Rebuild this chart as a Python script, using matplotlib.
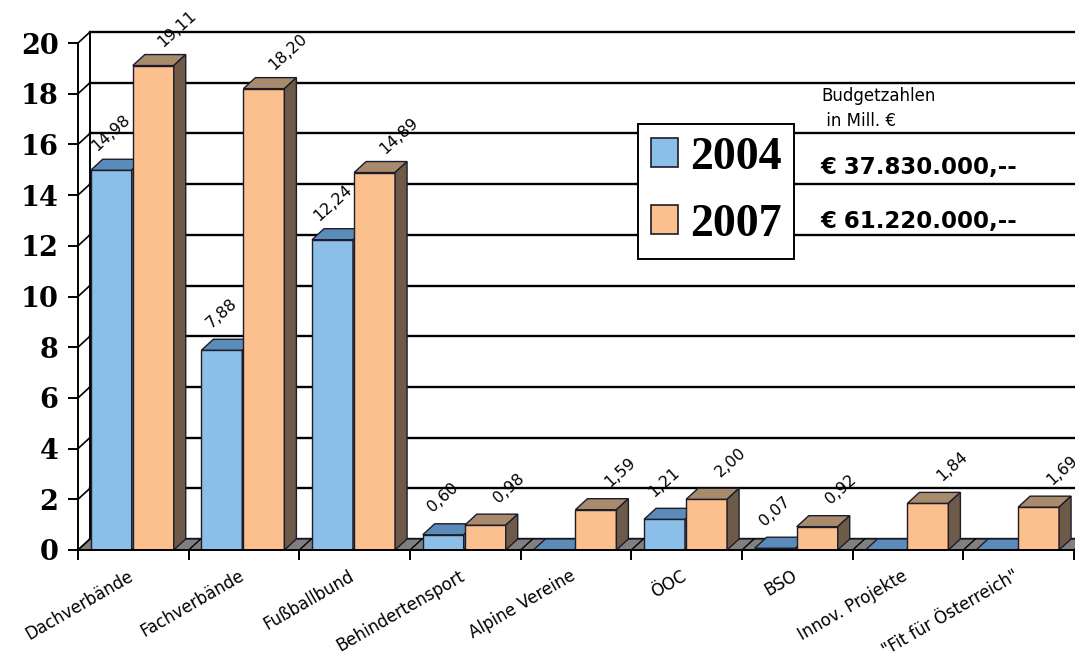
import numpy as np
import matplotlib
matplotlib.use("Agg")
import matplotlib.pyplot as plt
from matplotlib.patches import Polygon, Patch
from matplotlib.transforms import ScaledTranslation

# Daten (Budget in Mill. Euro)
kategorien = ["Dachverbände", "Fachverbände", "Fußballbund", "Behindertensport",
              "Alpine Vereine", "ÖOC", "BSO", "Innov. Projekte", "\"Fit für Österreich\""]
werte_2004 = [14.98, 7.88, 12.24, 0.60, 0.0, 1.21, 0.07, 0.0, 0.0]
werte_2007 = [19.11, 18.20, 14.89, 0.98, 1.59, 2.00, 0.92, 1.84, 1.69]
jahre = ["2004", "2007"]
summen = ["€ 37.830.000,--", "€ 61.220.000,--"]
yticks = list(range(0, 21, 2))

# Farben
blau_vorne, blau_oben, blau_seite = "#8cbfe8", "#5b8bb8", "#4a6f96"
orange_vorne, orange_oben, orange_seite = "#fbc08e", "#a88a6c", "#6e5a48"
boden = "#808080"
rand = "#1c1c2a"

W_PX, H_PX = 1075, 664
ax_l, ax_b, ax_w, ax_h = 78, 114, 996, 507

fig = plt.figure(figsize=(W_PX / 100, H_PX / 100), dpi=100)
fig.patch.set_facecolor("white")
ax = fig.add_axes([ax_l / W_PX, ax_b / H_PX, ax_w / W_PX, ax_h / H_PX])
n = len(kategorien)
ax.set_xlim(0, n)
ax.set_ylim(0, 20)

# 3D-Tiefe in Datenkoordinaten
DX = 12 / (ax_w / n)
DY = 11 / (ax_h / 20)

# Rueckwand mit Gitterlinien und linke Seitenwand
for y in yticks:
    ax.plot([DX, n + 0.5], [y + DY, y + DY], color="black", lw=1.7, clip_on=False, zorder=1)
    ax.plot([0, DX], [y, y + DY], color="black", lw=1.2, clip_on=False, zorder=1)
ax.plot([DX, DX], [DY, 20 + DY], color="black", lw=1.4, clip_on=False, zorder=1)

# Boden
ax.add_patch(Polygon([(0, 0), (n, 0), (n + DX, DY), (DX, DY)], closed=True,
                     facecolor=boden, edgecolor=rand, lw=1, zorder=2, clip_on=False))
for k in range(n + 1):
    ax.plot([k, k + DX], [0, DY], color="black", lw=1, zorder=2, clip_on=False)

breite = 0.37
x = np.arange(n)
pos_2004 = x + 0.30
pos_2007 = x + 0.68


def balken3d(pos, werte, vorne, oben, seite, z, dx_label):
    bars = ax.bar(pos, werte, breite, color=vorne, edgecolor=rand, lw=1, zorder=z)
    for xc, v in zip(pos, werte):
        x0, x1 = xc - breite / 2, xc + breite / 2
        ax.add_patch(Polygon([(x0, v), (x1, v), (x1 + DX, v + DY), (x0 + DX, v + DY)],
                             closed=True, facecolor=oben, edgecolor=rand, lw=1, zorder=z,
                             clip_on=False))
        ax.add_patch(Polygon([(x1, 0), (x1 + DX, DY), (x1 + DX, v + DY), (x1, v)],
                             closed=True, facecolor=seite, edgecolor=rand, lw=1, zorder=z,
                             clip_on=False))
        if v > 0:
            ax.annotate(f"{v:.2f}".replace(".", ","), xy=(xc, v), xytext=(dx_label, 37),
                        textcoords="offset pixels", ha="center", va="center",
                        rotation=42, fontsize=11.5, family="DejaVu Sans",
                        zorder=10, annotation_clip=False)
    return bars


b1 = balken3d(pos_2004, werte_2004, blau_vorne, blau_oben, blau_seite, 3, 0)
b2 = balken3d(pos_2007, werte_2007, orange_vorne, orange_oben, orange_seite, 4, 24)

# Achsen
for s in ["top", "right"]:
    ax.spines[s].set_visible(False)
ax.spines["left"].set_linewidth(1.4)
ax.spines["bottom"].set_linewidth(1.4)
ax.spines["left"].set_zorder(6)
ax.spines["bottom"].set_zorder(6)
ax.set_yticks(yticks)
ax.set_yticklabels([str(t) for t in yticks], fontsize=19.5, fontweight="bold",
                   family="DejaVu Serif")
ax.tick_params(axis="y", length=7, width=1.4, pad=7)
ax.set_xticks(np.arange(n + 1), minor=True)
ax.tick_params(axis="x", which="minor", length=7, width=1.4)
ax.set_xticks(x + 0.5)
ax.set_xticklabels(kategorien, rotation=30, ha="right", rotation_mode="anchor",
                   fontsize=12, family="DejaVu Sans")
ax.tick_params(axis="x", which="major", length=0, pad=12)
verschiebung = ScaledTranslation(-6 / 100, 0, fig.dpi_scale_trans)
for lab in ax.get_xticklabels():
    lab.set_transform(lab.get_transform() + verschiebung)

# Legende
handles = [Patch(facecolor=blau_vorne, edgecolor=rand, lw=1.2),
           Patch(facecolor=orange_vorne, edgecolor=rand, lw=1.2)]
leg = fig.legend(handles, jahre, loc="upper left", bbox_to_anchor=(638 / W_PX, 1 - 124 / H_PX),
                 prop={"family": "Liberation Serif", "weight": "bold", "size": 33},
                 handlelength=0.6, handleheight=0.6, handletextpad=0.25,
                 labelspacing=0.55, borderpad=0.28, borderaxespad=0,
                 frameon=True, fancybox=False, framealpha=1)
leg.get_frame().set_edgecolor("black")
leg.get_frame().set_linewidth(1.4)

# Budgetzahlen
fig.text(821 / W_PX, 1 - 87 / H_PX, "Budgetzahlen\n in Mill. €", ha="left", va="top",
         fontsize=12, family="DejaVu Sans", linespacing=1.5)
fig.text(820 / W_PX, 1 - 174 / H_PX, summen[0], ha="left", va="baseline",
         fontsize=16.5, fontweight="bold", family="DejaVu Sans")
fig.text(820 / W_PX, 1 - 228 / H_PX, summen[1], ha="left", va="baseline",
         fontsize=16.5, fontweight="bold", family="DejaVu Sans")

fig.savefig("out.png", dpi=100, facecolor="white")
